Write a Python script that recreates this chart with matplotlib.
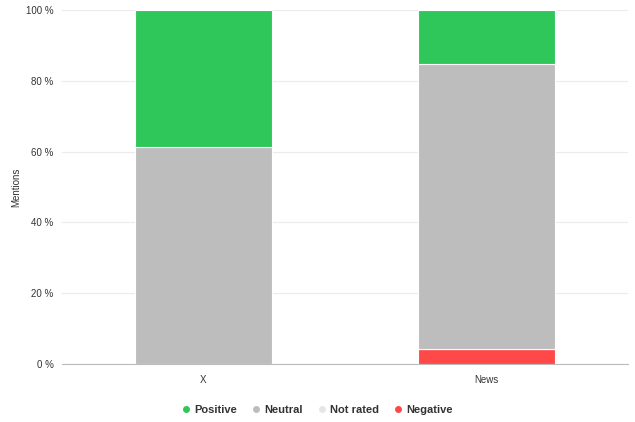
import matplotlib
matplotlib.use("Agg")
import matplotlib.pyplot as plt
from matplotlib.lines import Line2D
from matplotlib.ticker import FuncFormatter

plt.rcParams['font.family'] = ['Liberation Sans', 'DejaVu Sans']

categories = ["X", "News"]
negative = [0.0, 4.2]
not_rated = [0.0, 0.0]
neutral = [61.3, 80.5]
positive = [38.7, 15.3]

colors = {"Positive": "#2fc65a", "Neutral": "#bdbdbd", "Not rated": "#e6e6e6", "Negative": "#ff4848"}

fig = plt.figure(figsize=(6.35, 4.22), dpi=100)
ax = fig.add_axes([62/635, 1-364/422, 566/635, 354/422])

x = list(range(len(categories)))
w = 0.485
bottom = [0.0]*len(categories)
for name, vals in [("Negative", negative), ("Not rated", not_rated), ("Neutral", neutral), ("Positive", positive)]:
    ax.bar(x, vals, w, bottom=bottom, color=colors[name], edgecolor="white", linewidth=0.8, zorder=3)
    bottom = [b+v for b, v in zip(bottom, vals)]

ax.set_xlim(-0.5, 1.5)
ax.set_ylim(0, 100)
ax.set_yticks([0, 20, 40, 60, 80, 100])
ax.yaxis.set_major_formatter(FuncFormatter(lambda v, p: f"{int(v)} %"))
ax.set_xticks(x)
ax.set_xticklabels(categories)
ax.grid(axis="y", color="#ebebeb", linewidth=0.8, zorder=0)
for s in ["top", "right", "left"]:
    ax.spines[s].set_visible(False)
ax.spines["bottom"].set_color("#bbbbbb")
ax.spines["bottom"].set_linewidth(0.8)
ax.tick_params(axis="both", length=0, labelsize=7, colors="#333333")
ax.tick_params(axis="y", pad=6)
ax.tick_params(axis="x", pad=8)
ax.set_ylabel("Mentions", fontsize=7, color="#333333")
ax.yaxis.set_label_coords(-(62-21)/566, 0.5)

handles = [Line2D([], [], marker="o", linestyle="", markersize=4, color=colors[n]) for n in ["Positive", "Neutral", "Not rated", "Negative"]]
leg = fig.legend(handles, ["Positive", "Neutral", "Not rated", "Negative"], loc="center", bbox_to_anchor=(317/635, 1-410/422),
                 ncol=4, frameon=False, handletextpad=0.25, columnspacing=1.2, handlelength=1.0,
                 prop={"size": 8, "weight": "bold"})
for t in leg.get_texts():
    t.set_color("#333333")

fig.savefig("out.png", dpi=100)
